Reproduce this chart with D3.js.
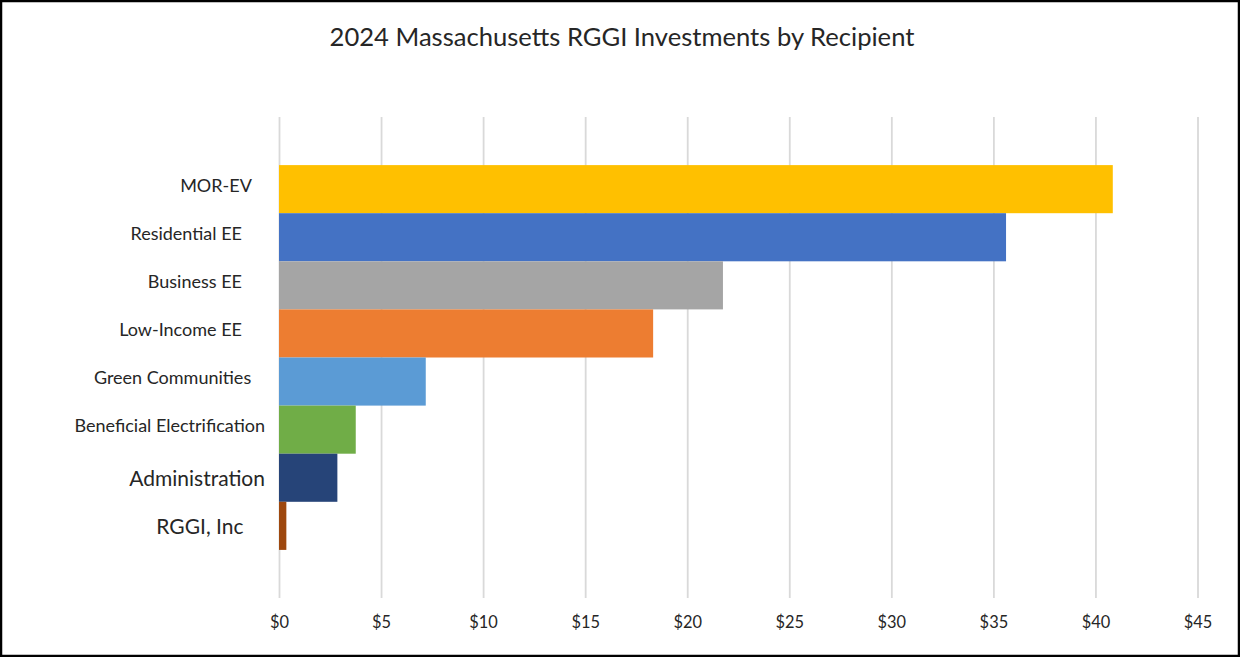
<!DOCTYPE html>
<html>
<head>
<meta charset="utf-8">
<script src="https://cdn.jsdelivr.net/npm/d3@7"></script>
<style>
  body { margin: 0; background: #fff; }
  text { font-family: Lato, "Open Sans", sans-serif; fill: #262626; }
  .ylab text { white-space: pre; }
</style>
</head>
<body>
<div id="chart"></div>
<script>
// recipients, top to bottom (trailing spaces are part of the original labels)
var categories = ["MOR-EV   ", "Residential EE     ", "Business EE     ", "Low-Income EE     ",
                  "Green Communities   ", "Beneficial Electrification", "Administration", "RGGI, Inc    "];
// investment, millions of dollars
var values = [40.85, 35.62, 21.75, 18.33, 7.19, 3.76, 2.86, 0.36];
var xTicks = [0, 5, 10, 15, 20, 25, 30, 35, 40, 45];
var title = "2024 Massachusetts RGGI Investments by Recipient";

var colors = ["#FFC000", "#4472C4", "#A5A5A5", "#ED7D31", "#5B9BD5", "#70AD47", "#264478", "#9E480E"];
var bigLabels = ["Administration", "RGGI, Inc"];

var W = 1240, H = 657;
var margin = {top: 117, right: 42.5, bottom: 59, left: 279};

var svg = d3.select("#chart").append("svg")
  .attr("width", W).attr("height", H);

svg.append("rect")
  .attr("x", 1).attr("y", 1).attr("width", W - 2).attr("height", H - 2)
  .attr("fill", "#fff").attr("stroke", "#000").attr("stroke-width", 2.5);

var x = d3.scaleLinear().domain([0, 45]).range([margin.left, W - margin.right]);
var y = d3.scaleBand().domain(categories).range([margin.top, H - margin.bottom])
  .paddingInner(0).paddingOuter(1);

// gridlines
var grid = svg.append("g")
  .attr("transform", "translate(0," + (H - margin.bottom) + ")")
  .call(d3.axisBottom(x).tickValues(xTicks).tickSize(-(H - margin.bottom - margin.top)).tickFormat(""));
grid.select(".domain").remove();
grid.selectAll("line").attr("stroke", "#d9d9d9").attr("stroke-width", 1.8);

// bars
svg.append("g").selectAll("rect")
  .data(values)
  .join("rect")
  .attr("x", x(0))
  .attr("y", function(d, i) { return y(categories[i]); })
  .attr("width", function(d) { return x(d) - x(0); })
  .attr("height", y.bandwidth())
  .attr("fill", function(d, i) { return colors[i]; });

// x axis labels
var ax = svg.append("g")
  .attr("transform", "translate(0," + (H - margin.bottom) + ")")
  .call(d3.axisBottom(x).tickValues(xTicks).tickSize(0).tickPadding(18).tickFormat(function(d) { return "$" + d; }));
ax.select(".domain").remove();
ax.selectAll("text").attr("font-size", 16.4).attr("font-family", "Lato, sans-serif").attr("fill", "#404040");

// category labels
var ay = svg.append("g").attr("class", "ylab")
  .attr("transform", "translate(" + (margin.left - 14) + ",0)")
  .call(d3.axisLeft(y).tickSize(0).tickPadding(0));
ay.select(".domain").remove();
ay.selectAll("text")
  .attr("font-size", function(d) { return bigLabels.indexOf(d.trim()) >= 0 ? 21 : 18; })
  .attr("dy", function(d) { return bigLabels.indexOf(d.trim()) >= 0 ? "0.4em" : "0.15em"; })
  .attr("font-family", "Lato, sans-serif")
  .attr("fill", "#262626");

svg.append("text")
  .attr("x", 622).attr("y", 37)
  .attr("dy", "0.35em")
  .attr("text-anchor", "middle")
  .attr("font-size", 25.6)
  .attr("fill", "#0d0d0d")
  .text(title);
</script>
</body>
</html>
